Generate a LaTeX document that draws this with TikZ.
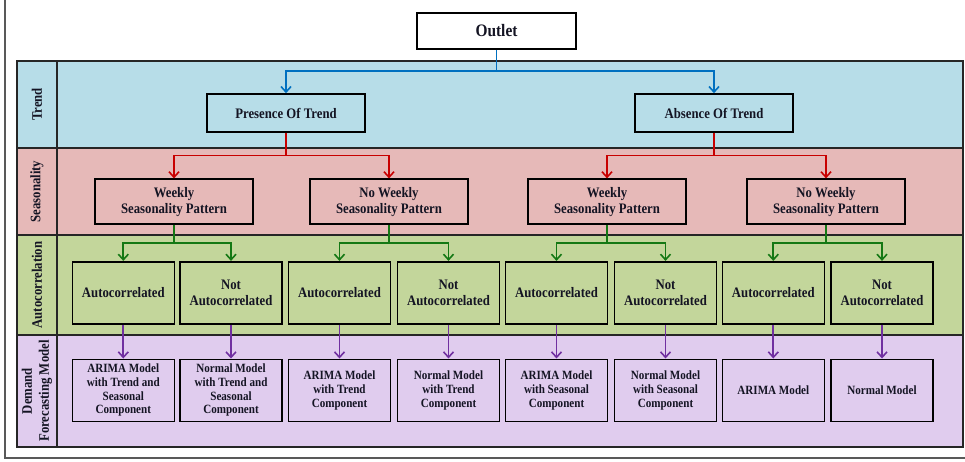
\documentclass[tikz,border=0pt]{standalone}
\usepackage{fontspec}
\setmainfont{Liberation Serif}[FakeStretch=0.88]
\usetikzlibrary{arrows.meta}
\definecolor{trendbg}{RGB}{183,221,232}
\definecolor{seasonbg}{RGB}{230,185,184}
\definecolor{autobg}{RGB}{195,214,155}
\definecolor{modelbg}{RGB}{224,204,238}
\definecolor{bluearr}{RGB}{0,112,192}
\definecolor{redarr}{RGB}{200,0,0}
\definecolor{greenarr}{RGB}{20,120,20}
\definecolor{purplearr}{RGB}{112,48,160}
\definecolor{inktext}{RGB}{20,20,35}
\tikzset{
  rowband/.style={draw=black!85, line width=1.5pt},
  rowlabel/.style={rotate=90, text=inktext, font=\fontsize{14.5}{17}\selectfont\bfseries, align=center},
  boxbase/.style={draw=black, line width=1.6pt, align=center, inner sep=1pt, text=inktext,
                  font=\fontsize{14.5}{16}\selectfont\bfseries},
  trendbox/.style={boxbase, fill=trendbg, minimum width=158pt, minimum height=38pt},
  seasonbox/.style={boxbase, fill=seasonbg, minimum width=158pt, minimum height=45pt},
  autobox/.style={boxbase, fill=autobg, minimum width=102pt, minimum height=62pt},
  modelbox/.style={boxbase, fill=modelbg, minimum width=102pt, minimum height=62pt,
                   font=\fontsize{12.6}{13.7}\selectfont\bfseries},
  conn/.style={line width=1.8pt, -{Straight Barb[length=5.5pt,width=10pt,line width=1.6pt]}},
}
\begin{document}
\begin{tikzpicture}[x=1pt,y=-1pt]
\useasboundingbox (0,0) rectangle (965,461);
% outer frame
\draw[line width=1.5pt, black!65] (5,0) -- (5,458) -- (965,458);

% horizontal bands
\filldraw[rowband, fill=trendbg]  (17,61)  rectangle (963,148);
\filldraw[rowband, fill=seasonbg] (17,148) rectangle (963,235);
\filldraw[rowband, fill=autobg]   (17,235) rectangle (963,335);
\filldraw[rowband, fill=modelbg]  (17,335) rectangle (963,447);
\draw[rowband] (57,61) -- (57,447);

% band labels
\node[rowlabel] (ltrend)  at (37,104.5) {Trend};
\node[rowlabel] (lseason) at (37,191.5) {Seasonality};
\node[rowlabel] (lauto)   at (37,285)   {Autocorrelation};
\node[rowlabel] (lmodel)  at (37,391)   {Demand\\Forecasting Model};

% root
\node[boxbase, fill=white, minimum width=159pt, minimum height=36pt,
      font=\fontsize{17.5}{19}\selectfont\bfseries] (outlet) at (496.5,31) {Outlet};

% trend level
\node[trendbox] (pres) at (286,113) {Presence Of Trend};
\node[trendbox] (abs)  at (714,113) {Absence Of Trend};

% seasonality level
\node[seasonbox] (s1) at (174,201.7) {Weekly\\Seasonality Pattern};
\node[seasonbox] (s2) at (389,201.7) {No Weekly\\Seasonality Pattern};
\node[seasonbox] (s3) at (607,201.7) {Weekly\\Seasonality Pattern};
\node[seasonbox] (s4) at (826,201.7) {No Weekly\\Seasonality Pattern};

% autocorrelation level
\node[autobox] (a1) at (123.3,292.7) {Autocorrelated};
\node[autobox] (a2) at (231,292.7)   {Not\\Autocorrelated};
\node[autobox] (a3) at (339.5,292.7) {Autocorrelated};
\node[autobox] (a4) at (448.5,292.7) {Not\\Autocorrelated};
\node[autobox] (a5) at (556.5,292.7) {Autocorrelated};
\node[autobox] (a6) at (665.5,292.7) {Not\\Autocorrelated};
\node[autobox] (a7) at (773.3,292.7) {Autocorrelated};
\node[autobox] (a8) at (882,292.7)   {Not\\Autocorrelated};

% model level
\node[modelbox] (m1) at (123.3,390.3) {ARIMA Model\\with Trend and\\Seasonal\\Component};
\node[modelbox] (m2) at (231,390.3)   {Normal Model\\with Trend and\\Seasonal\\Component};
\node[modelbox] (m3) at (339.5,390.3) {ARIMA Model\\with Trend\\Component};
\node[modelbox] (m4) at (448.5,390.3) {Normal Model\\with Trend\\Component};
\node[modelbox] (m5) at (556.5,390.3) {ARIMA Model\\with Seasonal\\Component};
\node[modelbox] (m6) at (665.5,390.3) {Normal Model\\with Seasonal\\Component};
\node[modelbox] (m7) at (773.3,390.3) {ARIMA Model};
\node[modelbox] (m8) at (882,390.3)   {Normal Model};

% connectors: outlet -> trend
\foreach \c in {pres,abs}
  \draw[conn, bluearr] (outlet.south) -- (outlet.south |- 0,71) -| (\c.north);
% trend -> seasonality
\foreach \p/\c in {pres/s1,pres/s2,abs/s3,abs/s4}
  \draw[conn, redarr] (\p.south) -- (\p.south |- 0,155.5) -| (\c.north);
% seasonality -> autocorrelation
\foreach \p/\c in {s1/a1,s1/a2,s2/a3,s2/a4,s3/a5,s3/a6,s4/a7,s4/a8}
  \draw[conn, greenarr] (\p.south) -- (\p.south |- 0,243) -| (\c.north);
% autocorrelation -> model
\foreach \i in {1,...,8}
  \draw[conn, purplearr] (a\i.south) -- (m\i.north);
\end{tikzpicture}
\end{document}
